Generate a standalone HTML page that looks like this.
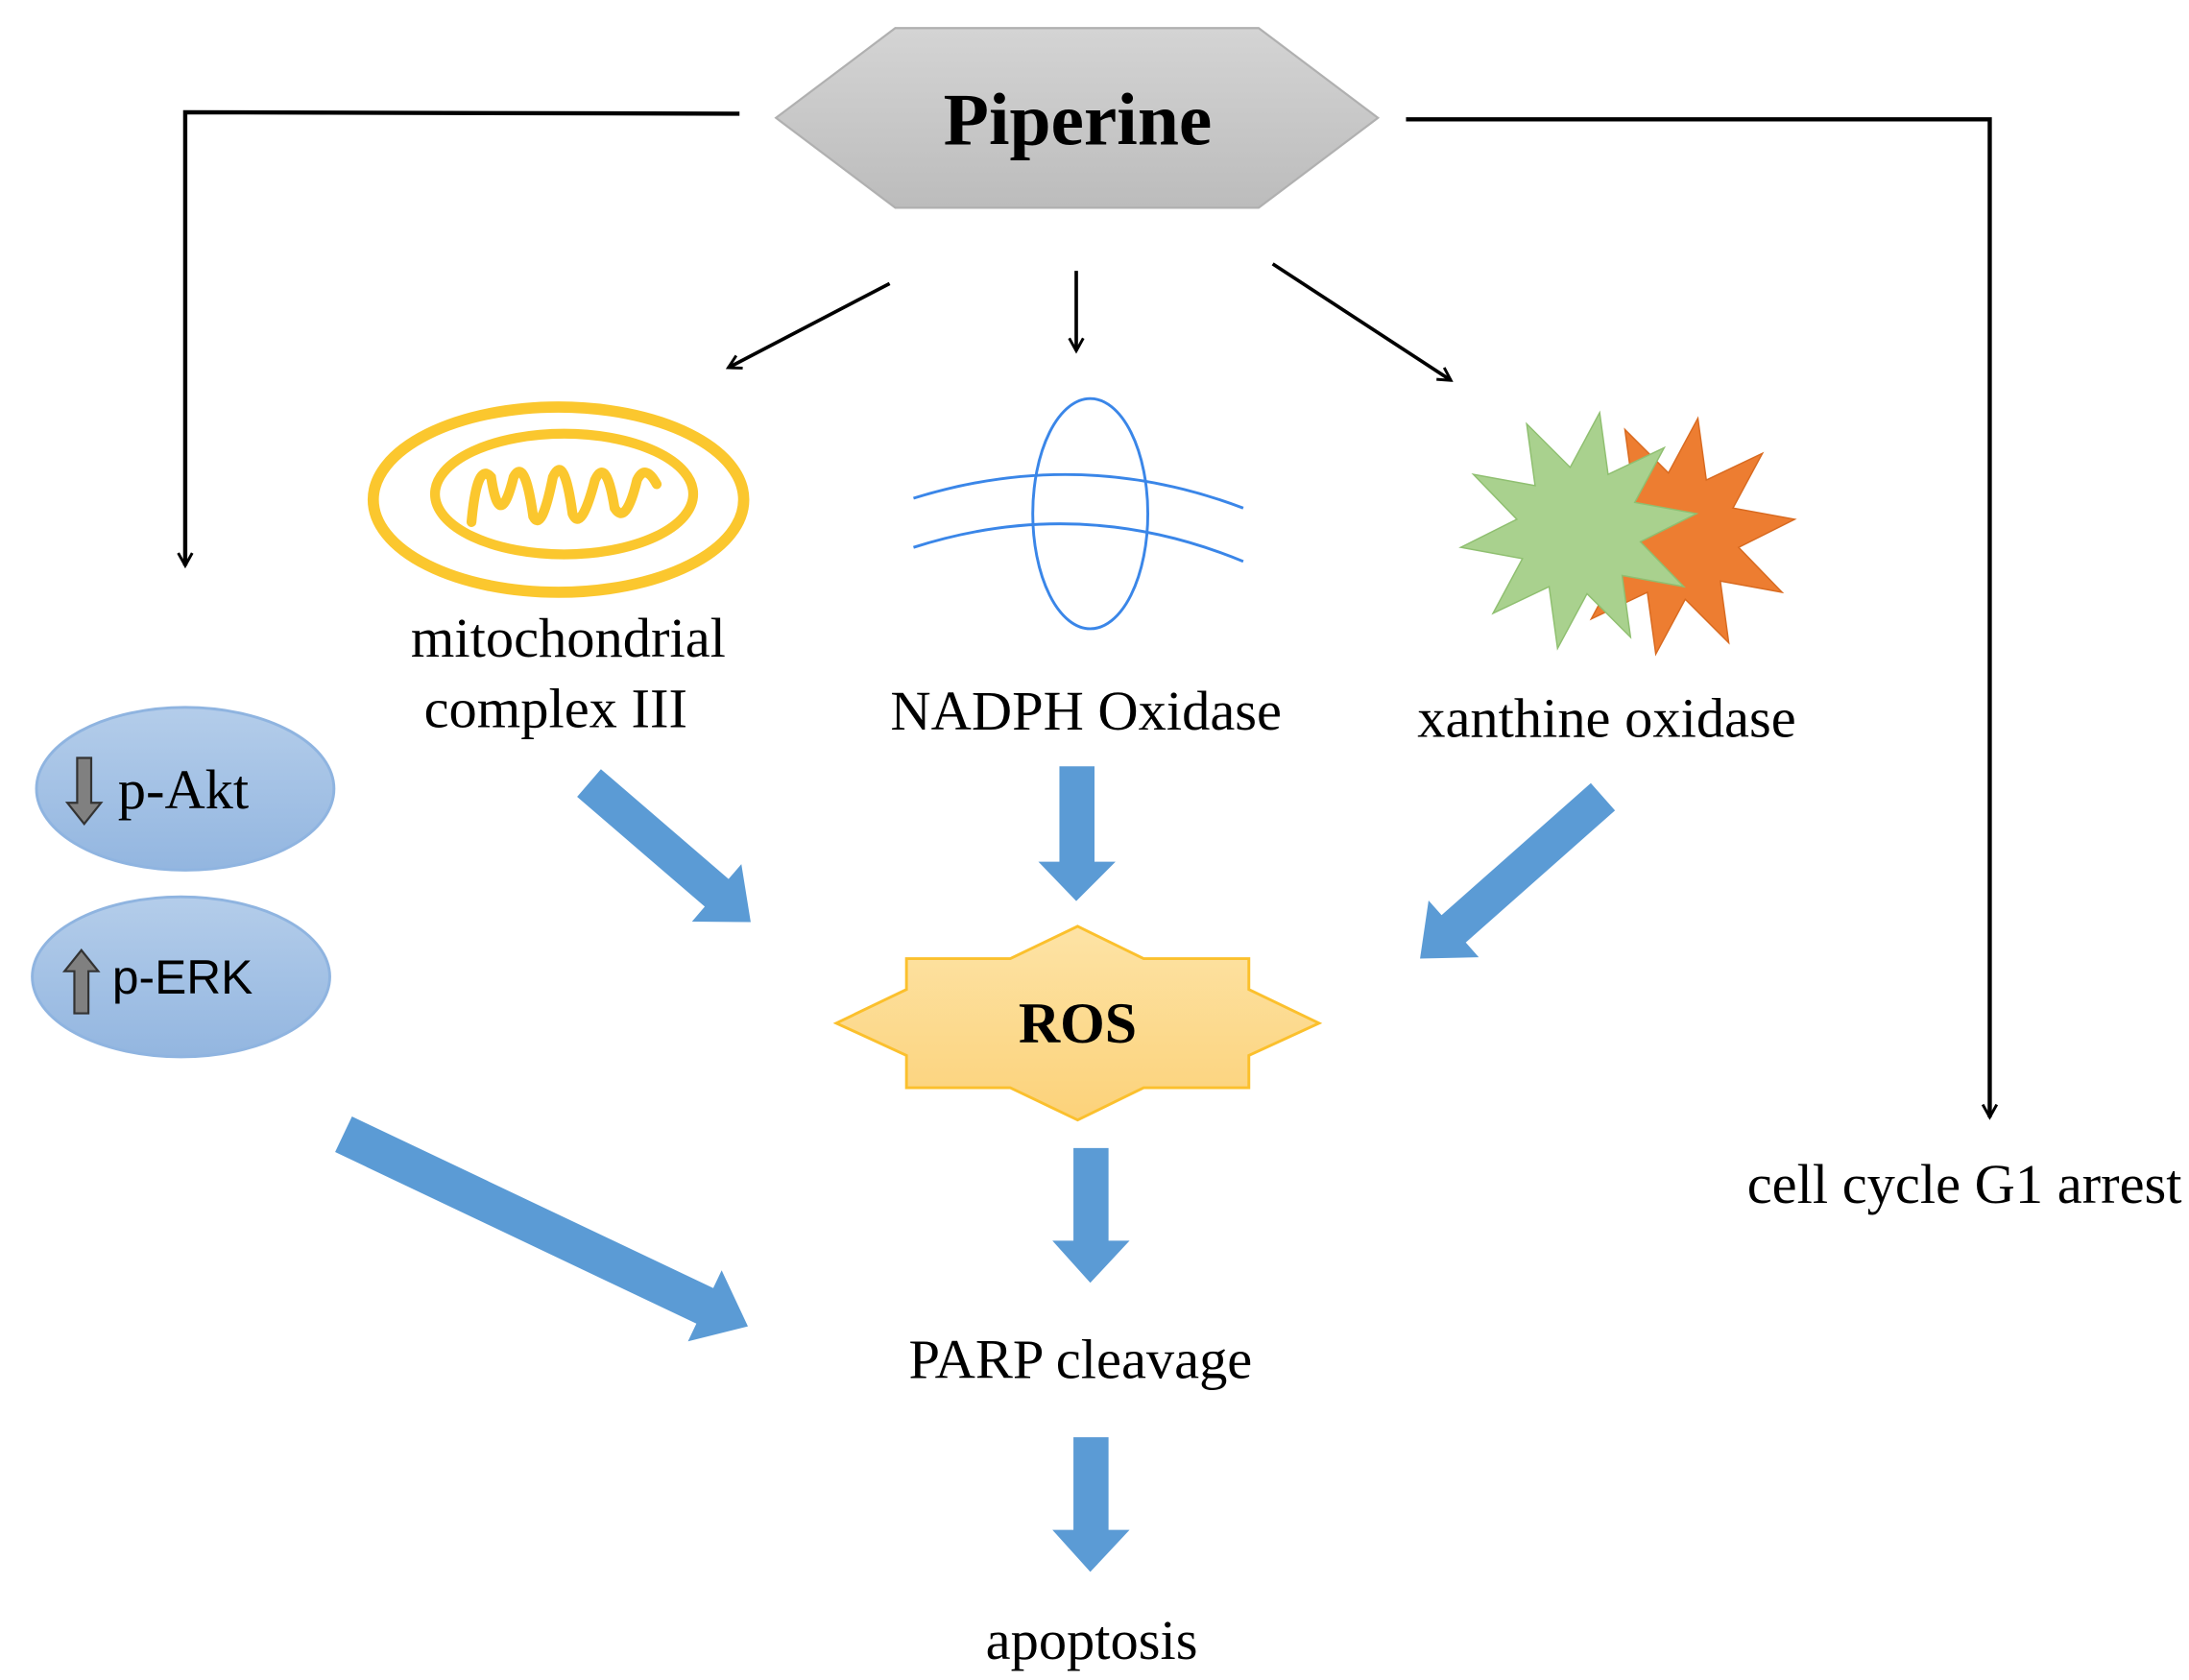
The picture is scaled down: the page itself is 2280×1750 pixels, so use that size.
<!DOCTYPE html>
<html><head><meta charset="utf-8"><style>html,body{margin:0;padding:0;background:#fff}svg{display:block}</style></head>
<body>
<svg width="2280" height="1750" viewBox="0 0 1560 1197" preserveAspectRatio="none" xmlns="http://www.w3.org/2000/svg">
<defs>
<linearGradient id="gh" x1="0" y1="0" x2="0" y2="1"><stop offset="0" stop-color="#d4d4d4"/><stop offset="1" stop-color="#bcbcbc"/></linearGradient>
<linearGradient id="ge" x1="0" y1="0" x2="0" y2="1"><stop offset="0" stop-color="#b4cdea"/><stop offset="1" stop-color="#93b6e0"/></linearGradient>
<linearGradient id="gr" x1="0" y1="0" x2="0" y2="1"><stop offset="0" stop-color="#fde3a5"/><stop offset="1" stop-color="#fcd27a"/></linearGradient>
<marker id="ah" markerWidth="12" markerHeight="12" refX="10" refY="6" orient="auto" markerUnits="userSpaceOnUse"><path d="M1,1 L10,6 L1,11" fill="none" stroke="#000" stroke-width="2"/></marker>
</defs>
<g font-family="'Liberation Serif',serif" fill="#000">
<polygon points="553,84 638,20 897,20 982,84 897,148 638,148" fill="url(#gh)" stroke="#b0b0b0" stroke-width="1.5"/>
<text x="768" y="103" font-size="53" font-weight="bold" text-anchor="middle">Piperine</text>
<polyline points="527,81 132,80 132,403" fill="none" stroke="#000" stroke-width="3" marker-end="url(#ah)"/>
<polyline points="1002,85 1418,85 1418,796" fill="none" stroke="#000" stroke-width="3" marker-end="url(#ah)"/>
<line x1="634" y1="202" x2="519" y2="262" stroke="#000" stroke-width="2.5" marker-end="url(#ah)"/>
<line x1="767" y1="193" x2="767" y2="250" stroke="#000" stroke-width="2.5" marker-end="url(#ah)"/>
<line x1="907" y1="188" x2="1034" y2="271" stroke="#000" stroke-width="2.5" marker-end="url(#ah)"/>
<ellipse cx="398" cy="356" rx="132" ry="66" fill="none" stroke="#fbc72e" stroke-width="8"/>
<ellipse cx="402" cy="352" rx="92" ry="43" fill="none" stroke="#fbc72e" stroke-width="7"/>
<path d="M336,372 Q340,328 350,340 Q356,380 366,340 Q374,325 380,368 Q386,380 394,340 Q402,322 408,366 Q414,380 424,342 Q432,325 438,362 Q446,375 454,342 Q460,330 468,345" fill="none" stroke="#fbc72e" stroke-width="7" stroke-linecap="round"/>
<ellipse cx="777" cy="366" rx="41" ry="82" fill="none" stroke="#3a86e8" stroke-width="2"/>
<path d="M651,355 Q770,318 886,362" fill="none" stroke="#3a86e8" stroke-width="2"/>
<path d="M651,390 Q770,352 886,400" fill="none" stroke="#3a86e8" stroke-width="2"/>
<polygon transform="translate(70,4)" points="1140,294 1146,338 1186,319 1165,358 1209,366 1169,386 1200,418 1156,410 1162,454 1131,423 1110,462 1104,418 1064,437 1085,398 1041,390 1081,370 1050,338 1094,346 1088,302 1119,333" fill="#ed7d31" stroke="#d86a20" stroke-width="1"/>
<polygon points="1140,294 1146,338 1186,319 1165,358 1209,366 1169,386 1200,418 1156,410 1162,454 1131,423 1110,462 1104,418 1064,437 1085,398 1041,390 1081,370 1050,338 1094,346 1088,302 1119,333" fill="#a9d18e" stroke="#8fbf70" stroke-width="1"/>
<g font-size="40" text-anchor="middle">
<text x="405" y="468">mitochondrial</text>
<text x="396" y="518">complex III</text>
<text x="774" y="520">NADPH Oxidase</text>
<text x="1145" y="525">xanthine oxidase</text>
<text x="1400" y="857">cell cycle G1 arrest</text>
<text x="770" y="982">PARP cleavage</text>
<text x="778" y="1182">apoptosis</text>
</g>
<ellipse cx="132" cy="562" rx="106" ry="58" fill="url(#ge)" stroke="#8fb4e0" stroke-width="2"/>
<ellipse cx="129" cy="696" rx="106" ry="57" fill="url(#ge)" stroke="#8fb4e0" stroke-width="2"/>
<polygon points="55,540 65,540 65,572 72,572 60,587 48,572 55,572" fill="#808080" stroke="#333" stroke-width="1.5"/>
<polygon points="53,722 63,722 63,692 70,692 58,677 46,692 53,692" fill="#808080" stroke="#333" stroke-width="1.5"/>
<text x="84" y="576" font-size="40">p-Akt</text>
<text x="80" y="708" font-size="34" font-family="'Liberation Sans',sans-serif">p-ERK</text>
<polygon points="768,660 815,683 890,683 890,705 940,729 890,752 890,775 815,775 768,798 720,775 646,775 646,752 596,729 646,705 646,683 720,683" fill="url(#gr)" stroke="#fbc02d" stroke-width="2"/>
<text x="768" y="743" font-size="41" font-weight="bold" text-anchor="middle">ROS</text>
<g fill="#5b9bd5">
<polygon points="755,546 780,546 780,614 795,614 767,642 740,614 755,614"/>
<polygon points="765,818 790,818 790,884 805,884 777,914 750,884 765,884"/>
<polygon points="765,1024 790,1024 790,1090 805,1090 777,1120 750,1090 765,1090"/>
<g transform="translate(535,657) rotate(40.7)"><path d="M0,0 L-32,-27 L-32,-13 L-152,-13 L-152,13 L-32,13 L-32,27 Z"/></g>
<g transform="translate(1012,683) rotate(138.5)"><path d="M0,0 L-32,-27 L-32,-13 L-174,-13 L-174,13 L-32,13 L-32,27 Z"/></g>
<g transform="translate(533,945) rotate(25.4)"><path d="M0,0 L-34,-28 L-34,-14 L-319,-14 L-319,14 L-34,14 L-34,28 Z"/></g>
</g>
</g>
</svg>
</body></html>
